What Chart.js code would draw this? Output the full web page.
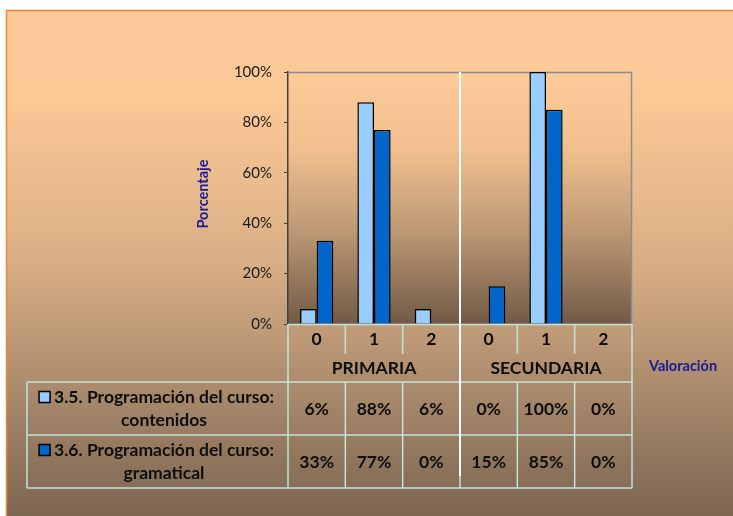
<!DOCTYPE html>
<html>
<head>
<meta charset="utf-8">
<script src="https://cdn.jsdelivr.net/npm/chart.js@4/dist/chart.umd.min.js"></script>
<style>
html,body{margin:0;padding:0;background:#fff;}
canvas{display:block;}
</style>
</head>
<body>
<canvas id="c" width="733" height="516"></canvas>
<script>
// ---- data ----
const categories = ['0', '1', '2', '0', '1', '2'];
const groups = ['PRIMARIA', 'SECUNDARIA'];
const seriesNames = [
  ['3.5. Programación del curso:', 'contenidos'],
  ['3.6. Programación del curso:', 'gramatical']
];
const contenidos = [6, 88, 6, 0, 100, 0];
const gramatical = [33, 77, 0, 15, 85, 0];
const yTicks = [0, 20, 40, 60, 80, 100];
const yTitle = 'Porcentaje';
const xTitle = 'Valoración';

const colors = ['#99CCFF', '#0066CC'];
const FONT = 'Lato, "Open Sans", sans-serif';
const LINE = '#C2E4DA';

const bgPlugin = {
  id: 'bg',
  beforeDraw(chart) {
    const ctx = chart.ctx;
    const W = chart.width, H = chart.height;
    ctx.save();
    ctx.fillStyle = '#fff';
    ctx.fillRect(0, 0, W, H);
    let g = ctx.createLinearGradient(0, 10, 0, H);
    g.addColorStop(0, '#FCCB99');
    g.addColorStop(0.18, '#FBC896');
    g.addColorStop(0.5, '#D9AE85');
    g.addColorStop(0.75, '#A98A6C');
    g.addColorStop(1, '#7C6551');
    ctx.fillStyle = g;
    ctx.fillRect(6, 10, W - 6, H - 10);
    ctx.strokeStyle = '#F0862E';
    ctx.lineWidth = 1.5;
    ctx.beginPath();
    ctx.moveTo(6.5, H);
    ctx.lineTo(6.5, 10.5);
    ctx.lineTo(W, 10.5);
    ctx.stroke();
    const a = chart.chartArea;
    g = ctx.createLinearGradient(0, a.top, 0, a.bottom);
    g.addColorStop(0, '#FCCB99');
    g.addColorStop(0.3, '#F2C08F');
    g.addColorStop(0.62, '#BF9A76');
    g.addColorStop(1, '#715A46');
    ctx.fillStyle = g;
    ctx.fillRect(a.left, a.top, a.right - a.left, a.bottom - a.top);
    ctx.restore();
  },
  beforeDatasetsDraw(chart) {
    const ctx = chart.ctx, a = chart.chartArea;
    ctx.save();
    ctx.strokeStyle = '#8C8C8C';
    ctx.lineWidth = 1.5;
    ctx.beginPath();
    ctx.moveTo(a.left, a.top + 0.5);
    ctx.lineTo(a.right - 0.5, a.top + 0.5);
    ctx.lineTo(a.right - 0.5, a.bottom);
    ctx.stroke();
    ctx.restore();
  },
  afterDraw(chart) {
    const ctx = chart.ctx, a = chart.chartArea;
    const xs = chart.scales.x;
    const n = categories.length;
    const cw = (a.right - a.left) / n;
    const edges = [];
    for (let i = 0; i <= n; i++) edges.push(a.left + i * cw);
    const yCat = a.bottom + 30, yGrp = a.bottom + 58;
    const rowH = 53;
    const rows = [yGrp, yGrp + rowH, yGrp + 2 * rowH];
    const tableLeft = 27;
    ctx.save();
    ctx.strokeStyle = LINE;
    ctx.lineWidth = 1.5;
    ctx.beginPath();
    ctx.moveTo(a.left, a.bottom + 0.5); ctx.lineTo(a.right, a.bottom + 0.5);
    rows.forEach(y => { ctx.moveTo(tableLeft, y); ctx.lineTo(a.right, y); });
    ctx.moveTo(tableLeft, rows[0]); ctx.lineTo(tableLeft, rows[2]);
    edges.forEach((x, i) => {
      const full = (i === 0 || i === n || i === n / 2);
      if (full) {
        ctx.moveTo(x, a.bottom); ctx.lineTo(x, rows[2]);
      } else {
        ctx.moveTo(x, a.bottom); ctx.lineTo(x, yCat);
        ctx.moveTo(x, rows[0]); ctx.lineTo(x, rows[2]);
      }
    });
    ctx.stroke();
    ctx.strokeStyle = '#FFFFFF';
    ctx.lineWidth = 2;
    ctx.beginPath();
    const sx = edges[n / 2];
    ctx.moveTo(sx, a.top); ctx.lineTo(sx, rows[2] - 12);
    ctx.stroke();

    ctx.fillStyle = '#0d0d0d';
    ctx.textAlign = 'center';
    ctx.textBaseline = 'middle';
    ctx.font = 'bold 17.5px ' + FONT;
    categories.forEach((c, i) => {
      ctx.fillText(c, xs.getPixelForValue(i), a.bottom + 15.5);
    });
    groups.forEach((gname, gi) => {
      const x0 = edges[gi * 3], x1 = edges[gi * 3 + 3];
      ctx.fillText(gname, (x0 + x1) / 2, a.bottom + 44);
    });
    const series = [contenidos, gramatical];
    series.forEach((s, si) => {
      const top = rows[si];
      const cy = top + rowH / 2;
      s.forEach((v, i) => {
        ctx.fillText(v + '%', xs.getPixelForValue(i), cy + 1);
      });
      const lx = 164;
      const l1 = seriesNames[si][0], l2 = seriesNames[si][1];
      ctx.fillText(l1, lx, cy - 11.5);
      ctx.fillText(l2, lx, cy + 11.5);
      const w1 = ctx.measureText(l1).width;
      const kx = lx - w1 / 2 - 15;
      ctx.fillStyle = colors[si];
      ctx.fillRect(kx, cy - 17, 11, 11);
      ctx.strokeStyle = '#000';
      ctx.lineWidth = 1.5;
      ctx.strokeRect(kx, cy - 17, 11, 11);
      ctx.fillStyle = '#0d0d0d';
    });
    ctx.fillStyle = '#1A1A96';
    ctx.font = 'bold 14.5px ' + FONT;
    ctx.fillText(xTitle, 683, 366);
    ctx.save();
    ctx.translate(203, (a.top + a.bottom) / 2 - 4);
    ctx.rotate(-Math.PI / 2);
    ctx.fillText(yTitle, 0, 0);
    ctx.restore();
    ctx.restore();
  }
};

new Chart(document.getElementById('c'), {
  type: 'bar',
  data: {
    labels: categories.map((c, i) => groups[Math.floor(i / 3)] + ' ' + c),
    datasets: [
      { label: seriesNames[0].join(' '), data: contenidos, backgroundColor: colors[0], borderColor: '#000', borderWidth: 1.5, borderSkipped: 'bottom' },
      { label: seriesNames[1].join(' '), data: gramatical, backgroundColor: colors[1], borderColor: '#000', borderWidth: 1.5, borderSkipped: 'bottom' }
    ]
  },
  options: {
    responsive: false,
    animation: false,
    devicePixelRatio: 1,
    layout: { padding: { top: 72, right: 101, left: 0, bottom: 0 } },
    datasets: { bar: { categoryPercentage: 0.58, barPercentage: 1 } },
    plugins: { legend: { display: false }, tooltip: { enabled: false } },
    scales: {
      x: {
        ticks: { display: false },
        grid: { display: false },
        border: { display: false },
        afterFit(s) { s.height = 192; }
      },
      y: {
        min: 0, max: 100,
        afterBuildTicks(s) { s.ticks = yTicks.map(v => ({ value: v })); },
        ticks: {
          callback: v => v + '%',
          font: { family: FONT, size: 15 },
          color: '#1a1a1a',
          padding: 12
        },
        grid: { drawOnChartArea: false, drawTicks: true, tickLength: 4, color: '#404040' },
        border: { display: true, color: '#404040', width: 1.5 },
        afterFit(s) { s.width = 288; }
      }
    }
  },
  plugins: [bgPlugin]
});
</script>
</body>
</html>
